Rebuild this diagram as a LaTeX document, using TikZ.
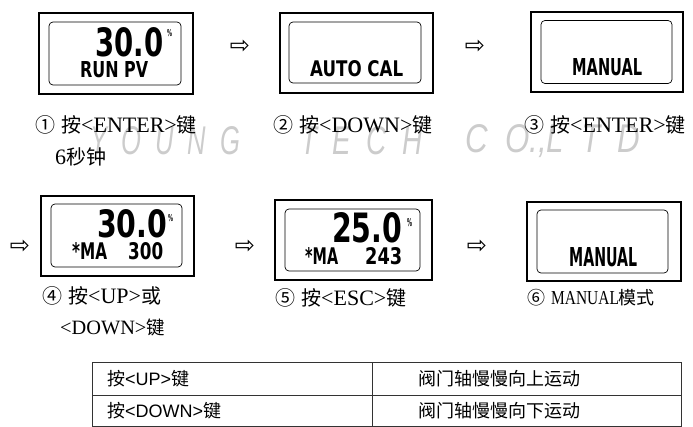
\documentclass[tikz,border=0pt]{standalone}
\usepackage{fontspec}
\usepackage{graphicx}
\setmainfont{Liberation Serif}[Scale=1.1]
\newfontfamily\cjk{Noto Sans CJK SC}
\newfontfamily\lcdfont{DejaVu Sans}
\newfontfamily\symfont{DejaVu Sans}
\newfontfamily\arialfont{Liberation Sans}
\newfontfamily\wmfont{Liberation Sans}
\newcommand\lcdtext[3]{\resizebox{#1pt}{#2pt}{\lcdfont\bfseries #3}}
\newcommand\wmsp{\hspace{0.55em}}
\begin{document}
\begin{tikzpicture}[x=1pt,y=-1pt,
  outerbox/.style={draw, line width=1.1pt, inner sep=0},
  innerbox/.style={draw, line width=0.7pt, rounded corners=4pt, inner sep=0},
  lcd/.style={anchor=south west, inner sep=0},
  lbl/.style={anchor=west, inner sep=0, font=\fontsize{20}{22}\selectfont},
  arr/.style={inner sep=0, font=\symfont\fontsize{24}{24}\selectfont},
  tbltxt/.style={anchor=west, inner sep=0, font=\fontsize{18}{20}\selectfont},
  tblline/.style={draw=black!80, line width=0.8pt},
  wm/.style={anchor=west, inner sep=0, text=black!20}]
\useasboundingbox (0,0) rectangle (693,427);

% watermark
\node[wm] (wm1) at (90,141) {\resizebox{150pt}{28pt}{\wmfont\itshape Y\wmsp O\wmsp U\wmsp N\wmsp G}};
\node[wm] (wm2) at (300,141) {\resizebox{122pt}{28pt}{\wmfont\itshape T\wmsp E\wmsp C\wmsp H}};
\node[wm] (wm3) at (465,141) {\resizebox{175pt}{28pt}{\wmfont\itshape C\wmsp O.,L\wmsp T\wmsp D}};

% box 1
\node[outerbox, minimum width=154, minimum height=81] (b1) at (116,53.5) {};
\node[innerbox, minimum width=132, minimum height=63] (i1) at (115,53.5) {};
\node[lcd] (d1) at (95,57) {\lcdtext{68}{29}{30.0}};
\node[lcd] (p1) at (167,37) {\lcdtext{5}{7}{\%}};
\node[lcd] (t1) at (80,78) {\lcdtext{68}{16}{RUN PV}};

% box 2
\node[outerbox, minimum width=153, minimum height=80] (b2) at (356.5,53) {};
\node[innerbox, minimum width=132, minimum height=61] (i2) at (355,52.5) {};
\node[lcd] (t2) at (310,77) {\lcdtext{93}{16}{AUTO CAL}};

% box 3
\node[outerbox, minimum width=152, minimum height=80] (b3) at (607,52) {};
\node[innerbox, minimum width=131, minimum height=63] (i3) at (606.5,52) {};
\node[lcd] (t3) at (572,76) {\lcdtext{70}{17}{MANUAL}};

% box 4
\node[outerbox, minimum width=153, minimum height=80] (b4) at (117.5,236) {};
\node[innerbox, minimum width=131, minimum height=63] (i4) at (116.5,235.5) {};
\node[lcd] (d4) at (97,238) {\lcdtext{70}{28}{30.0}};
\node[lcd] (p4) at (168,222) {\lcdtext{5}{7}{\%}};
\node[lcd] (m4) at (72,260) {\lcdtext{35}{17}{*MA}};
\node[lcd] (v4) at (128,260) {\lcdtext{35}{17}{300}};

% box 5
\node[outerbox, minimum width=157, minimum height=80] (b5) at (353.5,240) {};
\node[innerbox, minimum width=135, minimum height=62] (i5) at (352.5,240) {};
\node[lcd] (d5) at (332,243) {\lcdtext{70}{30}{25.0}};
\node[lcd] (p5) at (407,227) {\lcdtext{5}{8}{\%}};
\node[lcd] (m5) at (305,265) {\lcdtext{33}{17}{*MA}};
\node[lcd] (v5) at (365,265) {\lcdtext{37}{17}{243}};

% box 6
\node[outerbox, minimum width=154, minimum height=79] (b6) at (604,241.5) {};
\node[innerbox, minimum width=131, minimum height=63] (i6) at (602.5,241.5) {};
\node[lcd] (t6) at (569,267) {\lcdtext{68}{19}{MANUAL}};

% arrows
\node[arr] (a1) at (240,47) {⇨};
\node[arr] (a2) at (475,47) {⇨};
\node[arr] (a3) at (20,247) {⇨};
\node[arr] (a4) at (245,247) {⇨};
\node[arr] (a5) at (477,247) {⇨};

% labels
\node[lbl] (l1) at (35,125) {{\cjk ①}\hspace{6pt}{\cjk 按}<ENTER>{\cjk 键}};
\node[lbl] (l1b) at (55,157) {6{\cjk 秒钟}};
\node[lbl] (l2) at (273,125) {{\cjk ②}\hspace{6pt}{\cjk 按}<DOWN>{\cjk 键}};
\node[lbl] (l3) at (524,125) {{\cjk ③}\hspace{6pt}{\cjk 按}<ENTER>{\cjk 键}};
\node[lbl] (l4) at (42,296) {{\cjk ④}\hspace{6pt}{\cjk 按}<UP>{\cjk 或}};
\node[lbl, font=\fontsize{18.5}{20}\selectfont] (l4b) at (60,327) {<DOWN>{\cjk 键}};
\node[lbl] (l5) at (275,298) {{\cjk ⑤}\hspace{6pt}{\cjk 按}<ESC>{\cjk 键}};
\node[lbl, font=\fontsize{18}{20}\selectfont] (l6) at (527,298) {{\cjk ⑥}\hspace{6pt}\scalebox{0.78}[1]{MANUAL}{\cjk 模式}};

% table
\draw[tblline] (92,362) rectangle (681,426);
\draw[tblline] (92,395) -- (681,395);
\draw[tblline] (372,362) -- (372,426);
\node[tbltxt] (r1a) at (107,378.5) {{\cjk 按}{\arialfont <UP>}{\cjk 键}};
\node[tbltxt] (r2a) at (107,410.5) {{\cjk 按}{\arialfont <DOWN>}{\cjk 键}};
\node[tbltxt] (r1b) at (418,378.5) {\cjk 阀门轴慢慢向上运动};
\node[tbltxt] (r2b) at (418,410.5) {\cjk 阀门轴慢慢向下运动};
\end{tikzpicture}
\end{document}
